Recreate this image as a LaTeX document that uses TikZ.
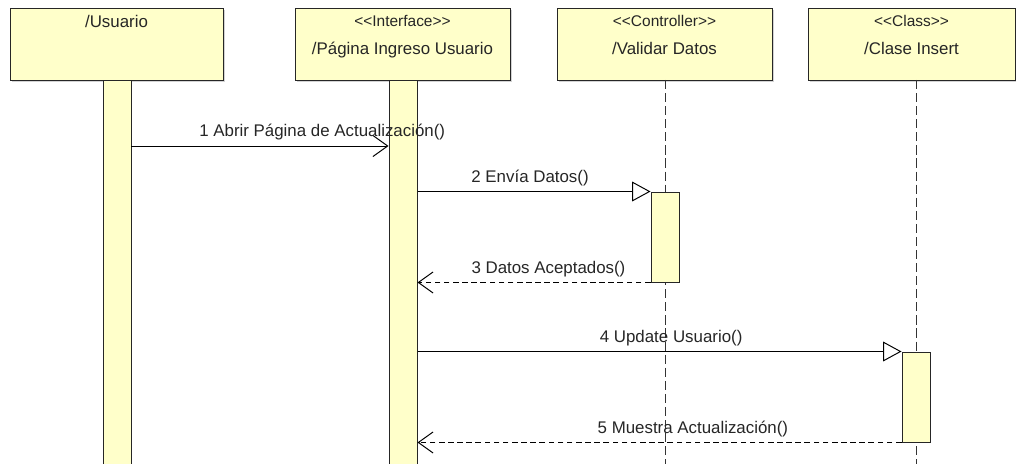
\documentclass[tikz,border=0pt]{standalone}
\usepackage{fontspec}
\setmainfont{Liberation Sans}
\usetikzlibrary{arrows.meta,shadows}
\definecolor{umlyellow}{RGB}{255,255,202}
\def\px{0.025cm}
\def\lt{<\kern0pt<\kern0pt}
\def\gt{\kern0pt>\kern0pt>}

\begin{document}
\begin{tikzpicture}[x=\px, y=-\px, font=\fontsize{12}{14}\selectfont, line width=0.7pt, text=black!85]
    \tikzstyle{head}=[draw=black!85, fill=umlyellow, inner sep=0pt, minimum height=72*\px, drop shadow={shadow xshift=1.5pt, shadow yshift=-1.5pt, opacity=0.35}]
    \tikzstyle{bar}=[draw=black!85, fill=umlyellow, inner sep=0pt, minimum width=28*\px]
    \tikzstyle{stereo}=[anchor=base, inner sep=0pt, font=\fontsize{11}{13}\selectfont]
    \tikzstyle{title}=[anchor=base, inner sep=0pt]
    \tikzstyle{lifeline}=[draw=black!80, dash pattern=on 6.5pt off 2.8pt]
    \tikzstyle{send}=[-{Straight Barb[length=10.5pt, width=15pt]}]
    \tikzstyle{call}=[-{Triangle[open, length=13pt, width=14pt, fill=white]}]
    \tikzstyle{reply}=[send, dash pattern=on 4pt off 2.5pt]
    \tikzstyle{msg}=[anchor=base, yshift=6.4pt, inner sep=0pt]

    \useasboundingbox (0,0) rectangle (1016,464);
    \clip (0,0) rectangle (1016,464);

    % Draw the heads of the lifelines
    \node[head, minimum width=213*\px] (usr) at (116.5,44) {};
    \node[head, minimum width=215*\px] (ifc) at (402.5,44) {};
    \node[head, minimum width=215*\px] (ctl) at (664.5,44) {};
    \node[head, minimum width=207*\px] (cls) at (911.5,44) {};

    \node[title] (usrT) at ([yshift=-14.2pt]usr.north) {/Usuario};
    \node[stereo] (ifcS) at ([yshift=-13.5pt]ifc.north) {\lt Interface\gt};
    \node[title] (ifcT) at ([yshift=-33.5pt]ifc.north) {/Página Ingreso Usuario};
    \node[stereo] (ctlS) at ([yshift=-13.5pt]ctl.north) {\lt Controller\gt};
    \node[title] (ctlT) at ([yshift=-33.5pt]ctl.north) {/Validar Datos};
    \node[stereo] (clsS) at ([yshift=-13.5pt]cls.north) {\lt Class\gt};
    \node[title] (clsT) at ([yshift=-33.5pt]cls.north) {/Clase Insert};

    % Dashed lifelines
    \coordinate (bottom) at (0,470);
    \coordinate (ctlTop) at (665,80);
    \coordinate (clsTop) at (916,80);
    \draw[lifeline] (ctlTop) -- (ctlTop |- bottom);
    \draw[lifeline] (clsTop) -- (clsTop |- bottom);

    % Activation bars
    \node[bar, minimum height=390*\px] (usrBar) at (117,275) {};
    \node[bar, minimum height=390*\px] (ifcBar) at (403,275) {};
    \node[bar, minimum height=90*\px] (ctlBar) at (665,237) {};
    \node[bar, minimum height=90*\px] (clsBar) at (916,397) {};

    % Messages
    \coordinate (m1) at (0,146);
    \draw[send] (usrBar.east |- m1) -- node[msg, pos=0.742] (m1T) {1 Abrir Página de Actualización()} (ifcBar.west |- m1);
    \draw[call] (ifcBar.east |- ctlBar.north) -- node[msg, pos=0.483] (m2T) {2 Envía Datos()} (ctlBar.north west);
    \draw[reply] (ctlBar.south west) -- node[msg, pos=0.438] (m3T) {3 Datos Aceptados()} (ifcBar.east |- ctlBar.south);
    \draw[call] (ifcBar.east |- clsBar.north) -- node[msg, pos=0.524] (m4T) {4 Update Usuario()} (clsBar.north west);
    \draw[reply] (clsBar.south west) -- node[msg, pos=0.431] (m5T) {5 Muestra Actualización()} (ifcBar.east |- clsBar.south);
\end{tikzpicture}
\end{document}
